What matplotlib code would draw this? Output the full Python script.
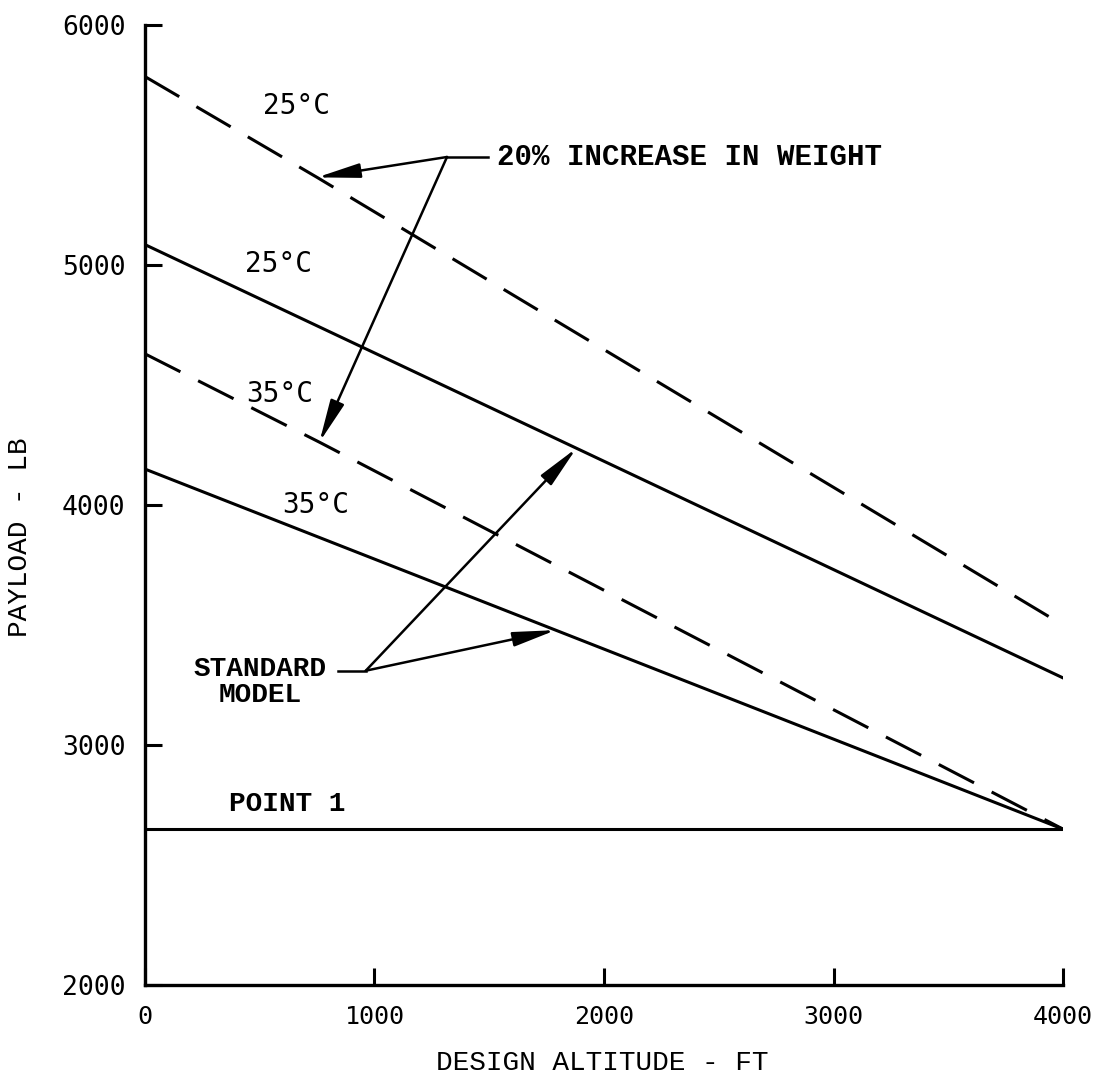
import matplotlib.pyplot as plt

# values
altitude_ticks = [0, 1000, 2000, 3000, 4000]
payload_ticks = [2000, 3000, 4000, 5000, 6000]

alt_heavy_25 = [0, 750, 4000]
pay_heavy_25 = [5785, 5365, 3500]
alt_heavy_35 = [0, 760, 4000]
pay_heavy_35 = [4630, 4262, 2650]

alt_std_25 = [0, 4000]
pay_std_25 = [5085, 3280]
alt_std_35 = [0, 4000]
pay_std_35 = [4150, 2650]

alt_point1 = [0, 4000]
pay_point1 = [2650, 2650]

MONO = ["Liberation Mono", "DejaVu Sans Mono"]
LETTER = ["DejaVu Sans Mono"]

fig = plt.figure(figsize=(10.94, 10.85), dpi=100)
ax = fig.add_axes([0.1325, 0.092, 0.8392, 0.885])

lw = 2.2
dash = (0, (13, 6.5))
ax.plot(alt_heavy_25, pay_heavy_25, color="black", lw=lw, linestyle=dash)
ax.plot(alt_heavy_35, pay_heavy_35, color="black", lw=lw, linestyle=dash)
ax.plot(alt_std_25, pay_std_25, color="black", lw=lw)
ax.plot(alt_std_35, pay_std_35, color="black", lw=lw)
ax.plot(alt_point1, pay_point1, color="black", lw=lw)

ax.set_xlim(0, 4000)
ax.set_ylim(2000, 6000)
ax.set_xticks(altitude_ticks)
ax.set_yticks(payload_ticks)
ax.set_xticklabels([str(v) for v in altitude_ticks], family=LETTER, fontsize=18)
ax.set_yticklabels([str(v) for v in payload_ticks], family=LETTER, fontsize=19)
ax.tick_params(direction="in", length=12, width=2.2, pad=14)
ax.tick_params(axis="x", pad=14)

for side in ["top", "right"]:
    ax.spines[side].set_visible(False)
for side in ["left", "bottom"]:
    ax.spines[side].set_linewidth(2.4)

ax.set_xlabel("DESIGN ALTITUDE - FT", family=MONO, fontsize=20)
ax.set_ylabel("PAYLOAD - LB", family=MONO, fontsize=20)
ax.xaxis.set_label_coords(0.498, -0.068)
ax.yaxis.set_label_coords(-0.122, 0.466)

# curve labels
for x, y, s in [(662, 5661, "25°C"), (584, 5004, "25°C"),
                (588, 4461, "35°C"), (745, 4000, "35°C")]:
    ax.text(x, y, s, family=LETTER, fontsize=20, ha="center", va="center")

ax.text(620, 2700, "POINT 1", family=MONO, fontsize=20, ha="center",
        va="bottom", weight="bold")

arrow = dict(arrowstyle="-|>,head_length=1.3,head_width=0.22", color="black",
             lw=1.8, mutation_scale=20, shrinkA=0, shrinkB=0)

# 20% increase in weight callout
hub1 = (1316, 5450)
ax.plot([hub1[0], 1494], [hub1[1], hub1[1]], color="black", lw=1.8)
ax.text(1534, 5450, "20% INCREASE IN WEIGHT", family=MONO, fontsize=21,
        ha="left", va="center", weight="bold")
ax.annotate("", xy=(750, 5365), xytext=hub1, arrowprops=arrow)
ax.annotate("", xy=(760, 4262), xytext=hub1, arrowprops=arrow)

# standard model callout
hub2 = (962, 3310)
ax.plot([840, hub2[0]], [hub2[1], hub2[1]], color="black", lw=1.8)
ax.text(500, 3370, "STANDARD\nMODEL", family=MONO, fontsize=20, ha="center",
        va="top", weight="bold", linespacing=1.0)
ax.annotate("", xy=(1880, 4237), xytext=hub2, arrowprops=arrow)
ax.annotate("", xy=(1790, 3479), xytext=hub2, arrowprops=arrow)

fig.savefig("out.png", dpi=100)
